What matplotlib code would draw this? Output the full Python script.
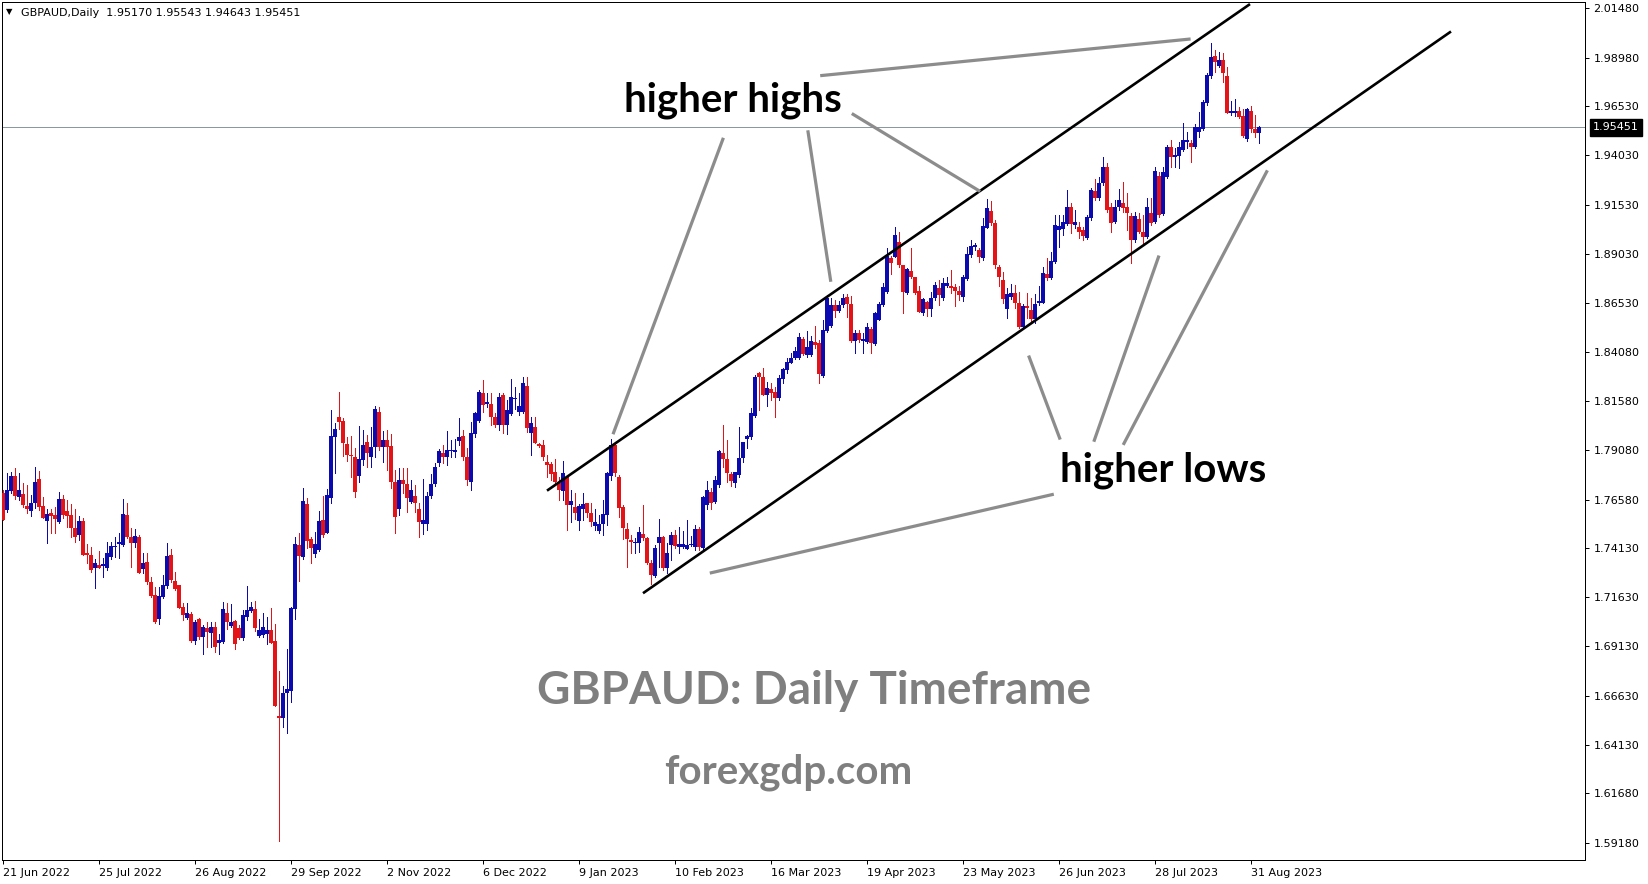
import numpy as np
import matplotlib
matplotlib.use("Agg")
import matplotlib.pyplot as plt
from matplotlib.transforms import blended_transform_factory

# ---------------- data (GBPAUD daily, one bar per trading day) ----------------
opens = [
1.7691,1.7605,1.7701,1.7777,1.7671,1.7686,1.7625,1.7600,1.7640,1.7762,
1.7625,1.7549,1.7590,1.7580,1.7544,1.7661,1.7600,1.7580,1.7514,1.7478,
1.7549,1.7387,1.7377,1.7311,1.7326,1.7321,1.7311,1.7367,1.7417,1.7433,
1.7427,1.7580,1.7468,1.7438,1.7468,1.7306,1.7341,1.7240,1.7174,1.7052,
1.7164,1.7220,1.7377,1.7245,1.7225,1.7113,1.7057,1.7078,1.6941,1.7052,
1.6961,1.7007,1.6981,1.7012,1.6931,1.6936,1.7083,1.7017,1.7042,1.7007,
1.6956,1.7062,1.7093,1.7103,1.6966,1.6971,1.6976,1.6997,1.6941,1.6560,
1.6550,1.6677,1.6687,1.7103,1.7427,1.7367,1.7635,1.7458,1.7382,1.7402,
1.7554,1.7488,1.7666,1.7975,1.8076,1.8056,1.7940,1.7884,1.7874,1.7777,
1.7858,1.7950,1.7874,1.7924,1.8102,1.7924,1.7960,1.7929,1.7747,1.7610,
1.7757,1.7737,1.7645,1.7676,1.7610,1.7534,1.7534,1.7676,1.7737,1.7843,
1.7894,1.7874,1.7904,1.7899,1.7955,1.7980,1.7874,1.7747,1.7990,1.8056,
1.8198,1.8142,1.8142,1.8076,1.8036,1.8188,1.8036,1.8092,1.8168,1.8102,
1.8102,1.8234,1.7995,1.8026,1.7940,1.7934,1.7848,1.7838,1.7798,1.7742,
1.7701,1.7772,1.7630,1.7620,1.7549,1.7610,1.7640,1.7590,1.7524,1.7498,
1.7534,1.7580,1.7777,1.7934,1.7772,1.7620,1.7509,1.7453,1.7438,1.7438,
1.7483,1.7463,1.7336,1.7270,1.7438,1.7468,1.7311,1.7427,1.7478,1.7417,
1.7417,1.7407,1.7427,1.7417,1.7509,1.7412,1.7630,1.7696,1.7645,1.7732,
1.7894,1.7864,1.7787,1.7742,1.7782,1.7869,1.7965,1.7975,1.8082,1.8300,
1.8279,1.8188,1.8218,1.8203,1.8173,1.8269,1.8315,1.8350,1.8376,1.8376,
1.8472,1.8392,1.8392,1.8457,1.8451,1.8284,1.8512,1.8538,1.8644,1.8614,
1.8644,1.8685,1.8649,1.8462,1.8502,1.8462,1.8457,1.8523,1.8447,1.8568,
1.8644,1.8710,1.8883,1.8888,1.8964,1.8847,1.8705,1.8817,1.8786,1.8715,
1.8604,1.8660,1.8624,1.8680,1.8730,1.8680,1.8741,1.8741,1.8736,1.8715,
1.8685,1.8776,1.8898,1.8938,1.8923,1.8883,1.9035,1.9121,1.9060,1.8837,
1.8771,1.8624,1.8685,1.8705,1.8654,1.8533,1.8639,1.8619,1.8573,1.8654,
1.8654,1.8801,1.8781,1.8862,1.9025,1.9030,1.9055,1.9141,1.9050,1.9040,
1.9025,1.8984,1.9085,1.9222,1.9187,1.9263,1.9344,1.9141,1.9065,1.9141,
1.9161,1.9141,1.9096,1.8974,1.9080,1.9014,1.8989,1.9111,1.9065,1.9298,
1.9106,1.9293,1.9445,1.9395,1.9400,1.9430,1.9471,1.9466,1.9445,1.9521,
1.9537,1.9668,1.9805,1.9907,1.9856,1.9886,1.9805,1.9618,1.9618,1.9628,
1.9603,1.9486,1.9628,1.9537,1.95170]
highs = [
1.7706,1.7793,1.7798,1.7818,1.7793,1.7742,1.7732,1.7681,1.7823,1.7803,
1.7671,1.7610,1.7610,1.7620,1.7696,1.7681,1.7656,1.7635,1.7610,1.7575,
1.7564,1.7433,1.7417,1.7357,1.7397,1.7362,1.7443,1.7443,1.7468,1.7488,
1.7661,1.7640,1.7514,1.7509,1.7478,1.7387,1.7387,1.7265,1.7215,1.7215,
1.7275,1.7438,1.7407,1.7291,1.7225,1.7133,1.7133,1.7088,1.7047,1.7057,
1.7022,1.7037,1.7037,1.7037,1.6976,1.7139,1.7133,1.7128,1.7047,1.7022,
1.7098,1.7220,1.7139,1.7144,1.7052,1.7083,1.7062,1.7108,1.7027,1.6789,
1.6713,1.6900,1.7113,1.7468,1.7488,1.7716,1.7666,1.7468,1.7493,1.7600,
1.7676,1.7711,1.8112,1.8046,1.8203,1.8071,1.7975,1.7980,1.7919,1.8031,
1.8011,1.7985,1.8026,1.8132,1.8127,1.8005,1.8011,1.7990,1.7808,1.7818,
1.7818,1.7818,1.7757,1.7732,1.7640,1.7762,1.7696,1.7787,1.7843,1.7914,
1.7934,1.8005,1.7960,1.7965,1.8071,1.8011,1.7919,1.8051,1.8102,1.8213,
1.8264,1.8198,1.8198,1.8097,1.8198,1.8198,1.8163,1.8269,1.8229,1.8198,
1.8279,1.8279,1.8076,1.8076,1.7945,1.7960,1.7884,1.7848,1.7864,1.7772,
1.7853,1.7777,1.7706,1.7691,1.7635,1.7691,1.7640,1.7640,1.7610,1.7580,
1.7656,1.7798,1.7965,1.7945,1.7782,1.7630,1.7539,1.7478,1.7463,1.7519,
1.7630,1.7468,1.7351,1.7427,1.7559,1.7473,1.7438,1.7493,1.7504,1.7519,
1.7498,1.7554,1.7473,1.7529,1.7519,1.7676,1.7752,1.7716,1.7777,1.7909,
1.8036,1.7960,1.7798,1.7798,1.8026,1.7950,1.7985,1.8122,1.8289,1.8305,
1.8325,1.8254,1.8249,1.8229,1.8289,1.8325,1.8376,1.8401,1.8431,1.8502,
1.8482,1.8512,1.8487,1.8538,1.8467,1.8568,1.8695,1.8680,1.8670,1.8664,
1.8700,1.8700,1.8690,1.8518,1.8518,1.8502,1.8553,1.8533,1.8609,1.8660,
1.8756,1.8933,1.8893,1.9040,1.9014,1.8847,1.8832,1.8933,1.8786,1.8741,
1.8680,1.8664,1.8710,1.8761,1.8771,1.8781,1.8786,1.8822,1.8751,1.8741,
1.8796,1.8938,1.8974,1.8959,1.8933,1.9085,1.9182,1.9172,1.9075,1.8847,
1.8812,1.8730,1.8751,1.8746,1.8710,1.8649,1.8705,1.8680,1.8700,1.8741,
1.8837,1.8883,1.8913,1.9101,1.9101,1.9101,1.9227,1.9161,1.9126,1.9065,
1.9040,1.9101,1.9237,1.9283,1.9293,1.9395,1.9364,1.9161,1.9177,1.9232,
1.9268,1.9212,1.9111,1.9116,1.9111,1.9101,1.9187,1.9187,1.9344,1.9319,
1.9344,1.9455,1.9481,1.9440,1.9471,1.9567,1.9521,1.9481,1.9562,1.9623,
1.9684,1.9820,1.9973,1.9937,1.9927,1.9922,1.9851,1.9679,1.9689,1.9648,
1.9638,1.9643,1.9653,1.9608,1.95543]
lows = [
1.7554,1.7595,1.7691,1.7661,1.7656,1.7620,1.7590,1.7575,1.7615,1.7605,
1.7564,1.7438,1.7488,1.7488,1.7539,1.7564,1.7519,1.7468,1.7443,1.7453,
1.7377,1.7336,1.7291,1.7209,1.7311,1.7265,1.7301,1.7357,1.7367,1.7362,
1.7422,1.7463,1.7316,1.7417,1.7286,1.7286,1.7230,1.7164,1.7032,1.7027,
1.7159,1.7209,1.7240,1.7199,1.7108,1.7047,1.7052,1.6936,1.6926,1.6951,
1.6875,1.6910,1.6910,1.6885,1.6875,1.6931,1.7002,1.7012,1.6900,1.6951,
1.6946,1.7047,1.7088,1.6991,1.6961,1.6961,1.6926,1.6931,1.6611,1.5927,
1.6505,1.6474,1.6631,1.7052,1.7245,1.7357,1.7412,1.7336,1.7367,1.7397,
1.7468,1.7488,1.7640,1.7793,1.8016,1.7879,1.7853,1.7772,1.7671,1.7747,
1.7833,1.7823,1.7823,1.7874,1.7909,1.7848,1.7808,1.7716,1.7488,1.7580,
1.7691,1.7595,1.7640,1.7595,1.7468,1.7483,1.7504,1.7666,1.7727,1.7828,
1.7843,1.7833,1.7874,1.7874,1.7934,1.7858,1.7732,1.7706,1.7975,1.8051,
1.8102,1.8127,1.8036,1.8026,1.8011,1.7995,1.7990,1.8087,1.8117,1.8087,
1.8097,1.8000,1.7884,1.7945,1.7924,1.7858,1.7772,1.7757,1.7742,1.7656,
1.7656,1.7504,1.7544,1.7559,1.7504,1.7554,1.7569,1.7524,1.7504,1.7488,
1.7478,1.7529,1.7757,1.7777,1.7569,1.7458,1.7316,1.7387,1.7387,1.7392,
1.7453,1.7331,1.7230,1.7265,1.7316,1.7301,1.7286,1.7351,1.7412,1.7387,
1.7412,1.7407,1.7422,1.7402,1.7402,1.7407,1.7610,1.7610,1.7640,1.7722,
1.7823,1.7747,1.7727,1.7722,1.7772,1.7848,1.7919,1.7965,1.8076,1.8112,
1.8188,1.8132,1.8163,1.8076,1.8163,1.8249,1.8300,1.8350,1.8371,1.8371,
1.8392,1.8381,1.8386,1.8426,1.8249,1.8279,1.8507,1.8533,1.8583,1.8609,
1.8634,1.8583,1.8457,1.8401,1.8457,1.8401,1.8451,1.8401,1.8441,1.8568,
1.8639,1.8705,1.8801,1.8888,1.8837,1.8604,1.8700,1.8781,1.8700,1.8609,
1.8594,1.8589,1.8589,1.8670,1.8644,1.8670,1.8736,1.8705,1.8639,1.8670,
1.8664,1.8771,1.8888,1.8923,1.8862,1.8872,1.9035,1.9050,1.8832,1.8741,
1.8654,1.8578,1.8675,1.8629,1.8528,1.8523,1.8578,1.8558,1.8553,1.8644,
1.8654,1.8771,1.8776,1.8857,1.8938,1.8999,1.9050,1.9009,1.9035,1.8984,
1.8974,1.8979,1.9075,1.9177,1.9177,1.9253,1.9116,1.9014,1.9060,1.9126,
1.9116,1.9025,1.8857,1.8964,1.9009,1.8959,1.8984,1.9050,1.9060,1.9090,
1.9101,1.9288,1.9344,1.9344,1.9339,1.9425,1.9440,1.9369,1.9440,1.9496,
1.9531,1.9658,1.9795,1.9826,1.9851,1.9775,1.9618,1.9608,1.9603,1.9592,
1.9496,1.9476,1.9521,1.9496,1.94643]
closes = [
1.7554,1.7706,1.7777,1.7676,1.7706,1.7630,1.7610,1.7640,1.7747,1.7620,
1.7564,1.7585,1.7575,1.7559,1.7661,1.7580,1.7575,1.7514,1.7468,1.7549,
1.7377,1.7377,1.7301,1.7336,1.7311,1.7331,1.7387,1.7422,1.7422,1.7443,
1.7585,1.7468,1.7438,1.7473,1.7286,1.7336,1.7240,1.7169,1.7037,1.7169,
1.7225,1.7372,1.7250,1.7204,1.7108,1.7073,1.7083,1.6941,1.7037,1.6961,
1.7012,1.6986,1.7012,1.6910,1.6946,1.7103,1.7037,1.7037,1.6926,1.6956,
1.7073,1.7098,1.7113,1.7007,1.6997,1.7012,1.6997,1.6931,1.6611,1.6550,
1.6677,1.6697,1.7108,1.7433,1.7372,1.7651,1.7448,1.7412,1.7433,1.7549,
1.7478,1.7681,1.7980,1.8016,1.8051,1.7945,1.7884,1.7879,1.7696,1.7864,
1.7934,1.7894,1.7924,1.8117,1.7924,1.7960,1.7924,1.7747,1.7569,1.7757,
1.7737,1.7666,1.7706,1.7640,1.7544,1.7554,1.7676,1.7737,1.7823,1.7904,
1.7874,1.7909,1.7909,1.7909,1.7975,1.7874,1.7757,1.7995,1.8097,1.8203,
1.8137,1.8153,1.8076,1.8036,1.8178,1.8036,1.8112,1.8178,1.8173,1.8132,
1.8249,1.8021,1.8046,1.7945,1.7929,1.7874,1.7833,1.7787,1.7747,1.7706,
1.7793,1.7630,1.7651,1.7590,1.7625,1.7635,1.7590,1.7544,1.7544,1.7534,
1.7585,1.7793,1.7934,1.7793,1.7615,1.7514,1.7458,1.7443,1.7443,1.7493,
1.7463,1.7336,1.7275,1.7412,1.7468,1.7311,1.7387,1.7478,1.7422,1.7433,
1.7433,1.7427,1.7433,1.7509,1.7417,1.7671,1.7706,1.7640,1.7757,1.7904,
1.7864,1.7793,1.7752,1.7798,1.7869,1.7950,1.7980,1.8097,1.8279,1.8279,
1.8188,1.8223,1.8198,1.8173,1.8274,1.8320,1.8355,1.8376,1.8411,1.8482,
1.8396,1.8431,1.8462,1.8441,1.8294,1.8518,1.8680,1.8644,1.8614,1.8644,
1.8680,1.8649,1.8462,1.8502,1.8467,1.8472,1.8533,1.8451,1.8604,1.8649,
1.8736,1.8893,1.8857,1.8999,1.8847,1.8710,1.8827,1.8786,1.8705,1.8609,
1.8675,1.8624,1.8680,1.8746,1.8695,1.8756,1.8756,1.8730,1.8715,1.8695,
1.8786,1.8903,1.8943,1.8948,1.8888,1.9045,1.9136,1.9060,1.8847,1.8786,
1.8675,1.8700,1.8705,1.8654,1.8533,1.8639,1.8629,1.8573,1.8649,1.8664,
1.8807,1.8781,1.8867,1.9050,1.9045,1.9065,1.9141,1.9055,1.9065,1.9014,
1.8994,1.9090,1.9227,1.9187,1.9263,1.9344,1.9126,1.9060,1.9141,1.9177,
1.9136,1.9111,1.8974,1.9096,1.9014,1.8989,1.9141,1.9060,1.9324,1.9101,
1.9319,1.9445,1.9395,1.9405,1.9445,1.9481,1.9481,1.9445,1.9547,1.9547,
1.9673,1.9810,1.9902,1.9876,1.9886,1.9820,1.9618,1.9628,1.9628,1.9597,
1.9501,1.9638,1.9537,1.9516,1.95451]

date_labels = ["21 Jun 2022", "25 Jul 2022", "26 Aug 2022", "29 Sep 2022",
               "2 Nov 2022", "6 Dec 2022", "9 Jan 2023", "10 Feb 2023",
               "16 Mar 2023", "19 Apr 2023", "23 May 2023", "26 Jun 2023",
               "28 Jul 2023", "31 Aug 2023"]
date_label_bars = [0, 24, 48, 72, 96, 120, 144, 168, 192, 216, 240, 264, 288, 312]
price_ticks = [2.01480, 1.98980, 1.96530, 1.94030, 1.91530, 1.89030, 1.86530,
               1.84080, 1.81580, 1.79080, 1.76580, 1.74130, 1.71630, 1.69130,
               1.66630, 1.64130, 1.61680, 1.59180]
symbol = "GBPAUD,Daily"
last_bar = (1.95170, 1.95543, 1.94643, 1.95451)

# channel lines (bar index, price)
upper_channel = ([136, 311.75], [1.7703, 2.0170])
lower_channel = ([160, 362], [1.7183, 2.0031])
# gray pointer lines
pointer_lines = [
    ([180.1, 152.5], [1.9492, 1.7989]),
    ([201.2, 206.95], [1.9530, 1.8762]),
    ([212.2, 244.3], [1.9615, 1.9220]),
    ([204.3, 296.9], [1.9807, 1.9993]),
    ([256.4, 264.3], [1.8388, 1.7962]),
    ([289.0, 272.7], [1.8895, 1.7951]),
    ([316.1, 280.05], [1.9327, 1.7935]),
    ([262.7, 176.7], [1.7685, 1.7285]),
]

# ---------------- figure ----------------
W, H = 1649, 884
fig = plt.figure(figsize=(W / 100, H / 100), dpi=100)
ax = fig.add_axes([2 / W, 24 / H, 1583 / W, 858 / H])

BLUE = "#0a0ab0"
RED = "#e31318"
px = 0.72  # one pixel in points

o = np.array(opens); h = np.array(highs); l = np.array(lows); c = np.array(closes)
x = np.arange(len(o))
up = c >= o
cols = np.where(up, BLUE, RED)
body_lo = np.minimum(o, c)
body_hi = np.maximum(o, c)
body_h = np.maximum(body_hi - body_lo, 0.0006)
wick_lo = np.minimum(l, body_lo)
wick_hi = np.maximum(h, body_hi)

ax.vlines(x, wick_lo, wick_hi, colors=cols, linewidth=1.0 * px, antialiased=False, zorder=2)
ax.bar(x, body_h, bottom=body_lo, width=0.8, color=cols, linewidth=0, antialiased=False, zorder=3)

ax.set_xlim(-0.25, 395.5)
ax.set_ylim(1.58304, 2.01805)

# current price line
ax.axhline(last_bar[3], color="#8a98a0", linewidth=1.0 * px, zorder=1)

# channel lines
for ln in (upper_channel, lower_channel):
    ax.plot(ln[0], ln[1], color="black", linewidth=1.9, solid_capstyle="butt", zorder=4)
for ln in pointer_lines:
    ax.plot(ln[0], ln[1], color="#8c8c8c", linewidth=2.3, solid_capstyle="butt", zorder=4)

# annotation texts
ann_font = "Lato"
ax.text(182.5, 1.9684, "higher highs", fontsize=29, fontweight="bold", family=ann_font,
        color="black", ha="center", va="center", zorder=5)
ax.text(290, 1.7808, "higher lows", fontsize=29, fontweight="bold", family=ann_font,
        color="black", ha="center", va="center", zorder=5)
ax.text(202.75, 1.6686, "GBPAUD: Daily Timeframe", fontsize=33, fontweight="bold",
        family=ann_font, color="#7f7f7f", ha="center", va="center", zorder=5)
ax.text(196.25, 1.6274, "forexgdp.com", fontsize=29, fontweight="bold",
        family=ann_font, color="#7f7f7f", ha="center", va="center", zorder=5)

# axes styling
for s in ax.spines.values():
    s.set_color("black")
    s.set_linewidth(1.0 * px)
ax.yaxis.tick_right()
ax.set_yticks(price_ticks)
ax.set_yticklabels([f"{p:.5f}" for p in price_ticks])
ax.tick_params(axis="y", direction="out", length=3, width=px, pad=3, labelsize=8, colors="black")
ax.set_xticks(date_label_bars)
ax.set_xticklabels(date_labels, ha="left")
ax.tick_params(axis="x", direction="out", length=3, width=px, pad=2.5, labelsize=8, colors="black")
ax.tick_params(axis="y", which="both", left=False)

# last price label box
tr = blended_transform_factory(ax.transAxes, ax.transData)
ax.text(1 + 8 / 1583, last_bar[3], f"{last_bar[3]:.5f}", transform=tr, ha="left", va="center",
        fontsize=8, color="white", clip_on=False,
        bbox=dict(boxstyle="square,pad=0.3", facecolor="black", edgecolor="black"))

# header
fig.text(6 / W, 1 - 12 / H, "\u25BC", fontsize=6, va="center", ha="left")
fig.text(21 / W, 1 - 12.5 / H,
         f"{symbol}  {last_bar[0]:.5f} {last_bar[1]:.5f} {last_bar[2]:.5f} {last_bar[3]:.5f}",
         fontsize=8, va="center", ha="left")

fig.savefig("out.png", dpi=100, facecolor="white")
